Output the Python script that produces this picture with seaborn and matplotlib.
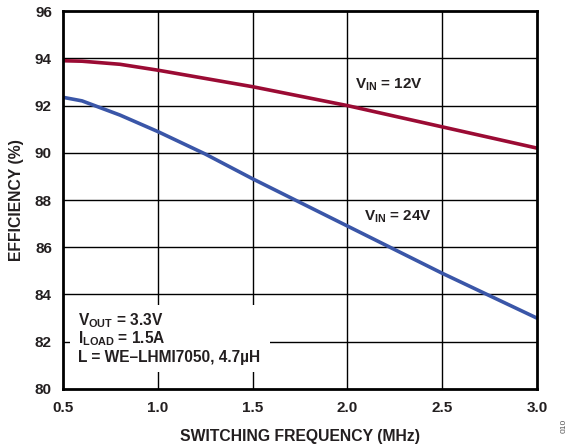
import matplotlib
matplotlib.use("Agg")
import matplotlib.pyplot as plt
import seaborn as sns
import pandas as pd
from matplotlib.patches import Rectangle

# Data
freq_12 = [0.5, 0.6, 0.8, 1.0, 1.25, 1.5, 1.75, 2.0, 2.25, 2.5, 2.75, 3.0]
eff_12 = [93.9, 93.88, 93.75, 93.5, 93.15, 92.8, 92.4, 92.0, 91.55, 91.1, 90.65, 90.2]
freq_24 = [0.5, 0.6, 0.8, 1.0, 1.25, 1.5, 1.75, 2.0, 2.25, 2.5, 2.75, 3.0]
eff_24 = [92.35, 92.2, 91.6, 90.9, 89.95, 88.9, 87.9, 86.9, 85.9, 84.9, 83.95, 83.0]
xticks = [0.5, 1.0, 1.5, 2.0, 2.5, 3.0]
yticks = [80, 82, 84, 86, 88, 90, 92, 94, 96]

df = pd.concat([
    pd.DataFrame({"freq": freq_12, "eff": eff_12, "vin": "12V"}),
    pd.DataFrame({"freq": freq_24, "eff": eff_24, "vin": "24V"}),
])

sns.set_theme(style="white")
plt.rcParams["font.family"] = ["Liberation Sans", "DejaVu Sans"]
plt.rcParams["mathtext.default"] = "regular"

TXT = "#231F20"
fig = plt.figure(figsize=(5.73, 4.46), dpi=100)
ax = fig.add_axes([0.110, 0.128, 0.827, 0.847])

sns.lineplot(data=df, x="freq", y="eff", hue="vin",
             palette={"12V": "#9B0B34", "24V": "#3A56A8"},
             linewidth=2.6, legend=False, ax=ax, zorder=2)

ax.set_xlim(0.5, 3.0)
ax.set_ylim(80, 96)
ax.set_xticks(xticks)
ax.set_yticks(yticks)
ax.set_xticklabels([f"{t:.1f}" for t in xticks], fontsize=11, fontweight="bold", color=TXT)
ax.set_yticklabels([str(t) for t in yticks], fontsize=11, fontweight="bold", color=TXT)

# manual grid below data
for t in xticks[1:-1]:
    ax.axvline(t, color="black", linewidth=1.0, zorder=0.5)
for t in yticks[1:-1]:
    ax.axhline(t, color="black", linewidth=1.0, zorder=0.5)
ax.grid(False)

ax.tick_params(axis="both", direction="in", length=7, width=1.0, color="black")
ax.tick_params(axis="y", pad=8)
ax.tick_params(axis="x", pad=9)
for s in ax.spines.values():
    s.set_linewidth(2.0)
    s.set_color("black")
    s.set_zorder(4)

ax.set_xlabel("SWITCHING FREQUENCY (MHz)", fontsize=11.3, fontweight="bold", color=TXT, labelpad=10)
ax.set_ylabel("EFFICIENCY (%)", fontsize=11.3, fontweight="bold", color=TXT, labelpad=8)

# white box behind annotation
ax.add_patch(Rectangle((0.537, 80.72), 1.053, 2.84, facecolor="white", edgecolor="none", zorder=1))

ax.text(2.04, 92.87, r"V$_{IN}$ = 12V", fontsize=11, fontweight="bold", color=TXT,
        va="center", ha="left", zorder=3)
ax.text(2.09, 87.28, r"V$_{IN}$ = 24V", fontsize=11, fontweight="bold", color=TXT,
        va="center", ha="left", zorder=3)

lines = [r"V$_{OUT}$ = 3.3V", r"I$_{LOAD}$ = 1.5A", "L = WE\u2013LHMI7050, 4.7\u00b5H"]
ys = [82.9, 82.15, 81.35]
for s, yv in zip(lines, ys):
    ax.text(0.579, yv, s, fontsize=11.2, fontweight="bold", color=TXT,
            va="center", ha="left", zorder=3)

fig.text(0.985, 0.045, "010", rotation=90, fontsize=6, color="#555555", ha="center", va="center")

fig.savefig("out.png", dpi=100)
